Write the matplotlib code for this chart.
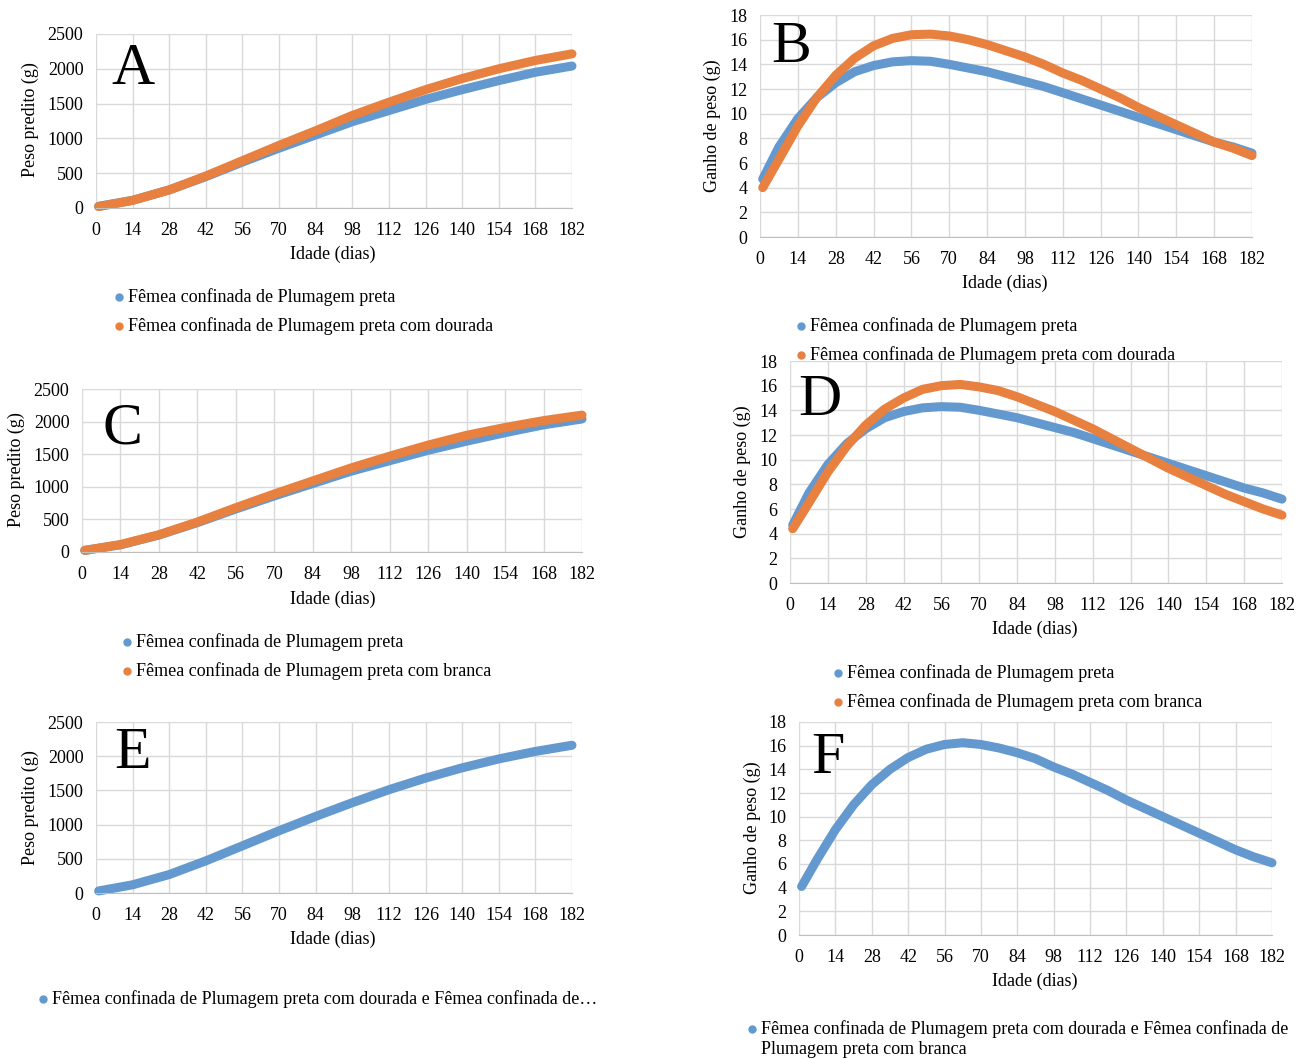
import matplotlib.pyplot as plt
from matplotlib.lines import Line2D

# ---- data ----
days_w = [1, 14, 28, 42, 56, 70, 84, 98, 112, 126, 140, 154, 168, 182]
days_g = [1, 7, 14, 21, 28, 35, 42, 49, 56, 63, 70, 77, 84, 91, 98, 105,
          112, 119, 126, 133, 140, 147, 154, 161, 168, 175, 182]

peso_preta = [25, 110, 260, 450, 660, 860, 1050, 1240, 1400, 1560, 1700, 1830, 1950, 2040]
peso_dourada = [20, 110, 260, 460, 680, 900, 1110, 1330, 1520, 1700, 1860, 2000, 2120, 2215]
peso_branca = [25, 115, 265, 460, 680, 890, 1090, 1290, 1470, 1640, 1790, 1910, 2015, 2100]
peso_dour_branca = [30, 120, 270, 470, 690, 910, 1120, 1320, 1510, 1680, 1830, 1960, 2070, 2160]

ganho_preta = [4.7, 7.3, 9.6, 11.3, 12.5, 13.4, 13.9, 14.2, 14.3, 14.25, 14.0, 13.7, 13.4, 13.0,
               12.6, 12.2, 11.7, 11.2, 10.7, 10.2, 9.7, 9.2, 8.7, 8.2, 7.7, 7.3, 6.8]
ganho_dourada = [4.0, 6.3, 9.0, 11.3, 13.1, 14.5, 15.5, 16.1, 16.4, 16.45, 16.3, 16.0, 15.6, 15.1,
                 14.6, 14.0, 13.3, 12.7, 12.0, 11.3, 10.5, 9.8, 9.1, 8.4, 7.7, 7.2, 6.6]
ganho_branca = [4.4, 6.5, 9.0, 11.1, 12.8, 14.1, 15.0, 15.7, 16.0, 16.1, 15.9, 15.6, 15.1, 14.5,
                13.9, 13.2, 12.5, 11.7, 10.9, 10.1, 9.3, 8.6, 7.9, 7.2, 6.6, 6.0, 5.5]
ganho_dour_branca = [4.1, 6.4, 8.9, 11.0, 12.7, 14.0, 15.0, 15.7, 16.1, 16.25, 16.1, 15.8, 15.4, 14.9,
                     14.2, 13.6, 12.9, 12.2, 11.4, 10.7, 10.0, 9.3, 8.6, 7.9, 7.2, 6.6, 6.1]

x_ticks = list(range(0, 183, 14))
peso_ticks = [0, 500, 1000, 1500, 2000, 2500]
ganho_ticks = list(range(0, 19, 2))

lab_preta = 'Fêmea confinada de Plumagem preta'
lab_dourada = 'Fêmea confinada de Plumagem preta com dourada'
lab_branca = 'Fêmea confinada de Plumagem preta com branca'
lab_comb_short = 'Fêmea confinada de Plumagem preta com dourada e Fêmea confinada de…'
lab_comb = 'Fêmea confinada de Plumagem preta com dourada e Fêmea confinada de'
lab_comb2 = 'Plumagem preta com branca'

BLUE = '#6399CE'
ORANGE = '#E8803F'
FONT = 'Liberation Serif'
FS = 13

W, H = 1297, 1059
plt.rcParams['font.family'] = FONT
fig = plt.figure(figsize=(W / 100, H / 100), dpi=100)


def fx(x):
    return x / W


def fy(y):
    return 1 - y / H


def make_panel(box, yticks, ylab, letter, letter_xy, ylab_xy, xlab_xy):
    left, right, top, bottom = box
    ax = fig.add_axes([fx(left), fy(bottom), fx(right - left), (bottom - top) / H])
    ax.set_xlim(0, 182)
    ax.set_ylim(yticks[0], yticks[-1])
    ax.set_xticks(x_ticks)
    ax.set_yticks(yticks)
    ax.tick_params(length=0, labelsize=FS, pad=10)
    ax.tick_params(axis='y', pad=9)
    ax.grid(True, color='#d9d9d9', lw=1)
    ax.set_axisbelow(True)
    for s in ['top', 'right', 'left']:
        ax.spines[s].set_visible(False)
    ax.spines['bottom'].set_color('#bfbfbf')
    fig.text(fx(letter_xy[0]), fy(letter_xy[1]), letter, fontsize=43,
             ha='center', va='center')
    fig.text(fx(ylab_xy[0]), fy(ylab_xy[1]), ylab, fontsize=FS, rotation=90,
             ha='center', va='center')
    fig.text(fx(xlab_xy[0]), fy(xlab_xy[1]), 'Idade (dias)', fontsize=FS,
             ha='center', va='center')
    return ax


def curve(ax, x, y, color):
    ax.plot(x, y, color=color, lw=6.5, solid_capstyle='round',
            solid_joinstyle='round', clip_on=False)


def legend_item(x, y, color, text):
    fig.add_artist(Line2D([fx(x)], [fy(y)], marker='o', ms=5, color=color,
                          lw=0, transform=fig.transFigure))
    fig.text(fx(x + 9), fy(y), text, fontsize=FS, ha='left', va='center')


# A
ax = make_panel((96, 572, 34, 208), peso_ticks, 'Peso predito (g)', 'A',
                (133, 70), (30, 120), (333, 254))
curve(ax, days_w, peso_preta, BLUE)
curve(ax, days_w, peso_dourada, ORANGE)
legend_item(119, 297, BLUE, lab_preta)
legend_item(119, 326, ORANGE, lab_dourada)

# B
ax = make_panel((760, 1252, 15, 237), ganho_ticks, 'Ganho de peso (g)', 'B',
                (791, 48), (712, 126), (1005, 283))
curve(ax, days_g, ganho_preta, BLUE)
curve(ax, days_g, ganho_dourada, ORANGE)
legend_item(801, 326, BLUE, lab_preta)
legend_item(801, 355, ORANGE, lab_dourada)

# C
ax = make_panel((82, 582, 389, 552), peso_ticks, 'Peso predito (g)', 'C',
                (122, 430), (16, 470), (333, 599))
curve(ax, days_w, peso_preta, BLUE)
curve(ax, days_w, peso_branca, ORANGE)
legend_item(127, 642, BLUE, lab_preta)
legend_item(127, 671, ORANGE, lab_branca)

# D
ax = make_panel((790, 1282, 361, 583), ganho_ticks, 'Ganho de peso (g)', 'D',
                (820, 401), (742, 472), (1035, 629))
curve(ax, days_g, ganho_preta, BLUE)
curve(ax, days_g, ganho_branca, ORANGE)
legend_item(838, 673, BLUE, lab_preta)
legend_item(838, 702, ORANGE, lab_branca)

# E
ax = make_panel((96, 572, 722, 893), peso_ticks, 'Peso predito (g)', 'E',
                (133, 754), (30, 808), (333, 939))
curve(ax, days_w, peso_dour_branca, BLUE)
legend_item(43, 999, BLUE, lab_comb_short)

# F
ax = make_panel((799, 1272, 722, 935), ganho_ticks, 'Ganho de peso (g)', 'F',
                (828, 759), (752, 828), (1035, 981))
curve(ax, days_g, ganho_dour_branca, BLUE)
legend_item(752, 1029, BLUE, lab_comb)
fig.text(fx(761), fy(1049), lab_comb2, fontsize=FS, ha='left', va='center')

fig.savefig('out.png', dpi=100, facecolor='white')
